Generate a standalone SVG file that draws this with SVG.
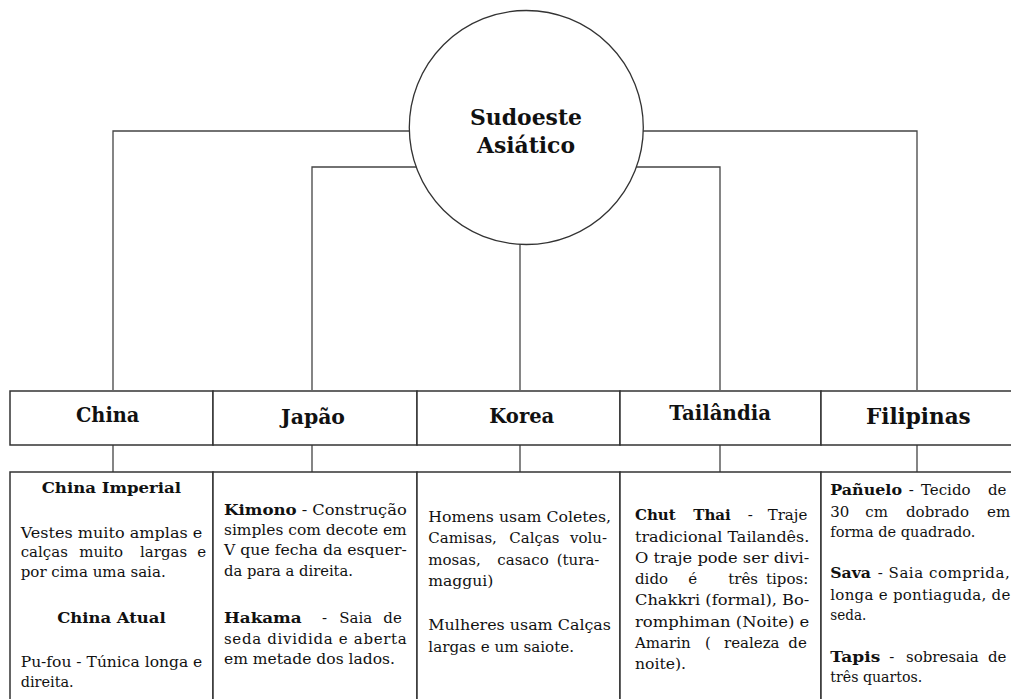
<svg xmlns="http://www.w3.org/2000/svg" width="1011" height="699" viewBox="0 0 1011 699">
<style>
text{font-family:"DejaVu Serif","Liberation Serif",serif;fill:#111}
.t{font-size:15px}
.b{font-weight:bold}
.h{font-size:20px;font-weight:bold}
.box{fill:#fff;stroke:#333;stroke-width:1.5}
.con{fill:none;stroke:#444;stroke-width:1.3}
</style>
<rect width="1011" height="699" fill="#fff"/>
<g id="connectors" class="con">
<path d="M113,390 V131 H430"/>
<path d="M620,131 H917 V390"/>
<path d="M312,390 V167 H440"/>
<path d="M610,167 H720 V390"/>
<path d="M520,240 V390"/>
<path d="M113,445 V472 M312,445 V472 M520,445 V472 M720,445 V472 M917,445 V472"/>
</g>
<g id="root">
<circle cx="526.3" cy="127.5" r="117" fill="#fff" stroke="#333" stroke-width="1.3"/>
<text class="b" font-size="22" x="470" y="125" textLength="112" lengthAdjust="spacingAndGlyphs">Sudoeste</text>
<text class="b" font-size="22" x="477" y="153" textLength="98" lengthAdjust="spacingAndGlyphs">Asiático</text>
</g>
<g id="h-china"><rect class="box" x="10" y="391" width="203" height="54"/><text class="h" x="76" y="421.7" textLength="63.3" lengthAdjust="spacingAndGlyphs">China</text></g>
<g id="h-japao"><rect class="box" x="213" y="391" width="204" height="54"/><text class="h" x="281" y="423.5" textLength="64" lengthAdjust="spacingAndGlyphs">Japão</text></g>
<g id="h-korea"><rect class="box" x="417" y="391" width="203" height="54"/><text class="h" x="489.3" y="422.7" textLength="65" lengthAdjust="spacingAndGlyphs">Korea</text></g>
<g id="h-tailandia"><rect class="box" x="620" y="391" width="201" height="54"/><text class="h" x="669.3" y="420" textLength="101.7" lengthAdjust="spacingAndGlyphs">Tailândia</text></g>
<g id="h-filipinas"><rect class="box" x="821" y="391" width="210" height="54"/><text class="b" font-size="23" x="866" y="424.3" textLength="104.7" lengthAdjust="spacingAndGlyphs">Filipinas</text></g>

<g id="c-china">
<rect class="box" x="10" y="472" width="203" height="240"/>
<text class="t b" x="41.7" y="493" textLength="139.3" lengthAdjust="spacingAndGlyphs">China Imperial</text>
<text class="t" x="20.7" y="538" textLength="181.6" lengthAdjust="spacingAndGlyphs">Vestes muito amplas e</text>
<text class="t" y="557"><tspan x="20.7">calças</tspan><tspan x="79.3">muito</tspan><tspan x="140">largas</tspan><tspan x="197.3">e</tspan></text>
<text class="t" x="20.7" y="577" textLength="145" lengthAdjust="spacingAndGlyphs">por cima uma saia.</text>
<text class="t b" x="57.3" y="623" textLength="108.4" lengthAdjust="spacingAndGlyphs">China Atual</text>
<text class="t" x="20.7" y="667" textLength="181.6" lengthAdjust="spacingAndGlyphs">Pu-fou - Túnica longa e</text>
<text class="t" x="20.7" y="687" textLength="53" lengthAdjust="spacingAndGlyphs">direita.</text>
</g>

<g id="c-japao">
<rect class="box" x="213" y="472" width="204" height="240"/>
<text class="t b" x="224" y="515" textLength="72.7" lengthAdjust="spacingAndGlyphs">Kimono</text>
<text class="t" x="301.7" y="515" textLength="105" lengthAdjust="spacingAndGlyphs">- Construção</text>
<text class="t" x="224" y="535" textLength="182.7" lengthAdjust="spacingAndGlyphs">simples com decote em</text>
<text class="t" x="224" y="555" textLength="182.7" lengthAdjust="spacingAndGlyphs">V que fecha da esquer-</text>
<text class="t" x="224" y="576" textLength="129" lengthAdjust="spacingAndGlyphs">da para a direita.</text>
<text class="t b" x="224" y="623" textLength="77.7" lengthAdjust="spacingAndGlyphs">Hakama</text>
<text class="t" y="623"><tspan x="322">-</tspan><tspan x="339.3">Saia</tspan><tspan x="383.3">de</tspan></text>
<text class="t" x="224" y="643.5" textLength="182.7" lengthAdjust="spacing">seda dividida e aberta</text>
<text class="t" x="224" y="664" textLength="171" lengthAdjust="spacingAndGlyphs">em metade dos lados.</text>
</g>

<g id="c-korea">
<rect class="box" x="417" y="472" width="203" height="240"/>
<text class="t" x="428.3" y="522" textLength="182.7" lengthAdjust="spacingAndGlyphs">Homens usam Coletes,</text>
<text class="t" y="543.3"><tspan x="428.3">Camisas,</tspan><tspan x="509.3">Calças</tspan><tspan x="570">volu-</tspan></text>
<text class="t" y="565"><tspan x="428.3">mosas,</tspan><tspan x="497.3">casaco</tspan><tspan x="556.7">(tura-</tspan></text>
<text class="t" x="428.3" y="585.7" textLength="65" lengthAdjust="spacingAndGlyphs">maggui)</text>
<text class="t" x="428.3" y="630" textLength="182.7" lengthAdjust="spacingAndGlyphs">Mulheres usam Calças</text>
<text class="t" x="428.3" y="651.7" textLength="145.7" lengthAdjust="spacingAndGlyphs">largas e um saiote.</text>
</g>

<g id="c-tailandia">
<rect class="box" x="620" y="472" width="201" height="240"/>
<text class="t b" y="520"><tspan x="635">Chut</tspan><tspan x="693.3">Thai</tspan></text>
<text class="t" y="520"><tspan x="747.7">-</tspan><tspan x="767.7">Traje</tspan></text>
<text class="t" x="635" y="541.7" textLength="174.3" lengthAdjust="spacingAndGlyphs">tradicional Tailandês.</text>
<text class="t" x="635" y="562.7" textLength="174.3" lengthAdjust="spacingAndGlyphs">O traje pode ser divi-</text>
<text class="t" y="584"><tspan x="635">dido</tspan><tspan x="688.3">é</tspan><tspan x="728.3">três</tspan><tspan x="766">tipos:</tspan></text>
<text class="t" x="635" y="605" textLength="174.3" lengthAdjust="spacingAndGlyphs">Chakkri (formal), Bo-</text>
<text class="t" x="635" y="626.7" textLength="174.3" lengthAdjust="spacingAndGlyphs">romphiman (Noite) e</text>
<text class="t" y="648.3"><tspan x="635">Amarin</tspan><tspan x="705">(</tspan><tspan x="724">realeza</tspan><tspan x="788.3">de</tspan></text>
<text class="t" x="635" y="669.3" textLength="51" lengthAdjust="spacingAndGlyphs">noite).</text>
</g>

<g id="c-filipinas">
<rect class="box" x="821" y="472" width="210" height="240"/>
<text class="t b" x="830.3" y="495" textLength="71.7" lengthAdjust="spacingAndGlyphs">Pañuelo</text>
<text class="t" y="495"><tspan x="908.7">-</tspan><tspan x="921">Tecido</tspan><tspan x="988">de</tspan></text>
<text class="t" y="516.7"><tspan x="830.3">30</tspan><tspan x="865.3">cm</tspan><tspan x="906">dobrado</tspan><tspan x="987">em</tspan></text>
<text class="t" x="830.3" y="536.7" textLength="145" lengthAdjust="spacingAndGlyphs">forma de quadrado.</text>
<text class="t b" x="830.3" y="578.3" textLength="40.7" lengthAdjust="spacingAndGlyphs">Sava</text>
<text class="t" x="877.7" y="578.3" textLength="132" lengthAdjust="spacing">- Saia comprida,</text>
<text class="t" x="830.3" y="600" textLength="180" lengthAdjust="spacing">longa e pontiaguda, de</text>
<text class="t" x="830.3" y="620" textLength="36" lengthAdjust="spacingAndGlyphs">seda.</text>
<text class="t b" x="830.3" y="661.7" textLength="50" lengthAdjust="spacingAndGlyphs">Tapis</text>
<text class="t" y="661.7"><tspan x="889.3">-</tspan><tspan x="906">sobresaia</tspan><tspan x="988">de</tspan></text>
<text class="t" x="830.3" y="682.3" textLength="92" lengthAdjust="spacingAndGlyphs">três quartos.</text>
</g>
</svg>
